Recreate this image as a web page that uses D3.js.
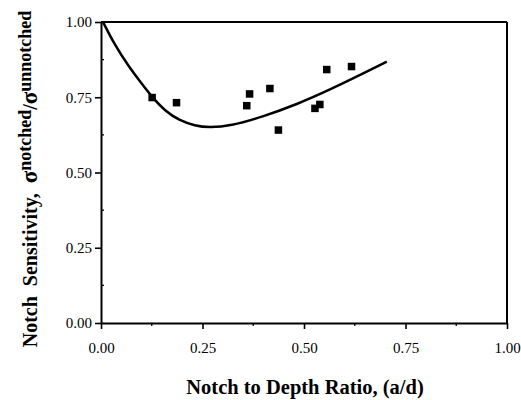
<!DOCTYPE html>
<html><head><meta charset="utf-8">
<script src="https://cdn.jsdelivr.net/npm/d3@7"></script>
<style>body{margin:0;background:#fff}svg{display:block}</style>
</head><body>
<script>
// Data
const pointX = [0.126, 0.186, 0.359, 0.366, 0.416, 0.437, 0.527, 0.539, 0.556, 0.617];
const pointY = [0.749, 0.732, 0.722, 0.761, 0.779, 0.641, 0.713, 0.726, 0.842, 0.852];
const curveX = [0.005, 0.034, 0.067, 0.100, 0.125, 0.158, 0.192, 0.232, 0.265, 0.318, 0.400, 0.482, 0.564, 0.646, 0.704];
const curveY = [1.0, 0.923, 0.855, 0.795, 0.752, 0.704, 0.674, 0.655, 0.649, 0.654, 0.686, 0.726, 0.775, 0.829, 0.868];
const xTicks = [0, 0.25, 0.5, 0.75, 1.0];
const yTicks = [0, 0.25, 0.5, 0.75, 1.0];
const minorTicks = [0.125, 0.375, 0.625, 0.875];

const W = 521, H = 400;
const svg = d3.select("body").append("svg").attr("width", W).attr("height", H);
const x = d3.scaleLinear().domain([0, 1]).range([101, 507]);
const y = d3.scaleLinear().domain([0, 1]).range([323, 22]);
const font = "'Liberation Serif', 'Times New Roman', serif";

// Frame (top and right)
svg.append("line").attr("x1", x(0)).attr("x2", x(1)).attr("y1", y(1)).attr("y2", y(1))
  .attr("stroke", "#000").attr("stroke-width", 2);
svg.append("line").attr("x1", x(1)).attr("x2", x(1)).attr("y1", y(0)).attr("y2", y(1))
  .attr("stroke", "#000").attr("stroke-width", 2);

// Axes
const xAxis = svg.append("g").attr("transform", `translate(0,${y(0)})`)
  .call(d3.axisBottom(x).tickValues(xTicks).tickFormat(d3.format(".2f")).tickSizeInner(6).tickSizeOuter(0).tickPadding(13));
const yAxis = svg.append("g").attr("transform", `translate(${x(0)},0)`)
  .call(d3.axisLeft(y).tickValues(yTicks).tickFormat(d3.format(".2f")).tickSizeInner(6).tickSizeOuter(0).tickPadding(3));
[xAxis, yAxis].forEach(g => {
  g.select(".domain").attr("stroke-width", 2);
  g.selectAll(".tick line").attr("stroke-width", 1.6);
  g.selectAll(".tick text").attr("font-family", font).attr("font-size", 15).attr("fill", "#000");
});
// minor ticks
svg.append("g").selectAll("line").data(minorTicks).join("line")
  .attr("x1", d => x(d)).attr("x2", d => x(d)).attr("y1", y(0)).attr("y2", y(0) + 3)
  .attr("stroke", "#000").attr("stroke-width", 1.3);
svg.append("g").selectAll("line").data(minorTicks).join("line")
  .attr("x1", x(0)).attr("x2", x(0) + 3).attr("y1", d => y(d)).attr("y2", d => y(d))
  .attr("stroke", "#000").attr("stroke-width", 1.3);

// Curve
const curveData = curveX.map((v, i) => [v, curveY[i]]);
svg.append("path").datum(curveData)
  .attr("d", d3.line().x(d => x(d[0])).y(d => y(d[1])).curve(d3.curveBasis))
  .attr("fill", "none").attr("stroke", "#000").attr("stroke-width", 2.5);

// Points
const s = 7.5;
svg.append("g").selectAll("rect").data(pointX.map((v, i) => [v, pointY[i]])).join("rect")
  .attr("x", d => x(d[0]) - s / 2).attr("y", d => y(d[1]) - s / 2)
  .attr("width", s).attr("height", s).attr("fill", "#000");

// X title
svg.append("text").attr("x", (x(0) + x(1)) / 2 + 1).attr("y", 394)
  .attr("text-anchor", "middle").attr("font-family", font).attr("font-weight", "bold")
  .attr("font-size", 20.5).attr("fill", "#000").text("Notch to Depth Ratio, (a/d)");

// Y title
const yt = svg.append("text").attr("transform", "translate(37,179) rotate(-90)")
  .attr("text-anchor", "middle").attr("font-family", font).attr("font-weight", "bold")
  .attr("font-size", 20).attr("fill", "#000").style("white-space", "pre");
yt.append("tspan").text("Notch  Sensitivity,  ");
yt.append("tspan").attr("font-size", 23).text("σ");
yt.append("tspan").attr("dy", -6).attr("font-size", 18).text("notched");
yt.append("tspan").attr("dy", 6).text("/");
yt.append("tspan").attr("font-size", 23).text("σ");
yt.append("tspan").attr("dy", -6).attr("font-size", 18).text("unnotched");
</script>
</body></html>
